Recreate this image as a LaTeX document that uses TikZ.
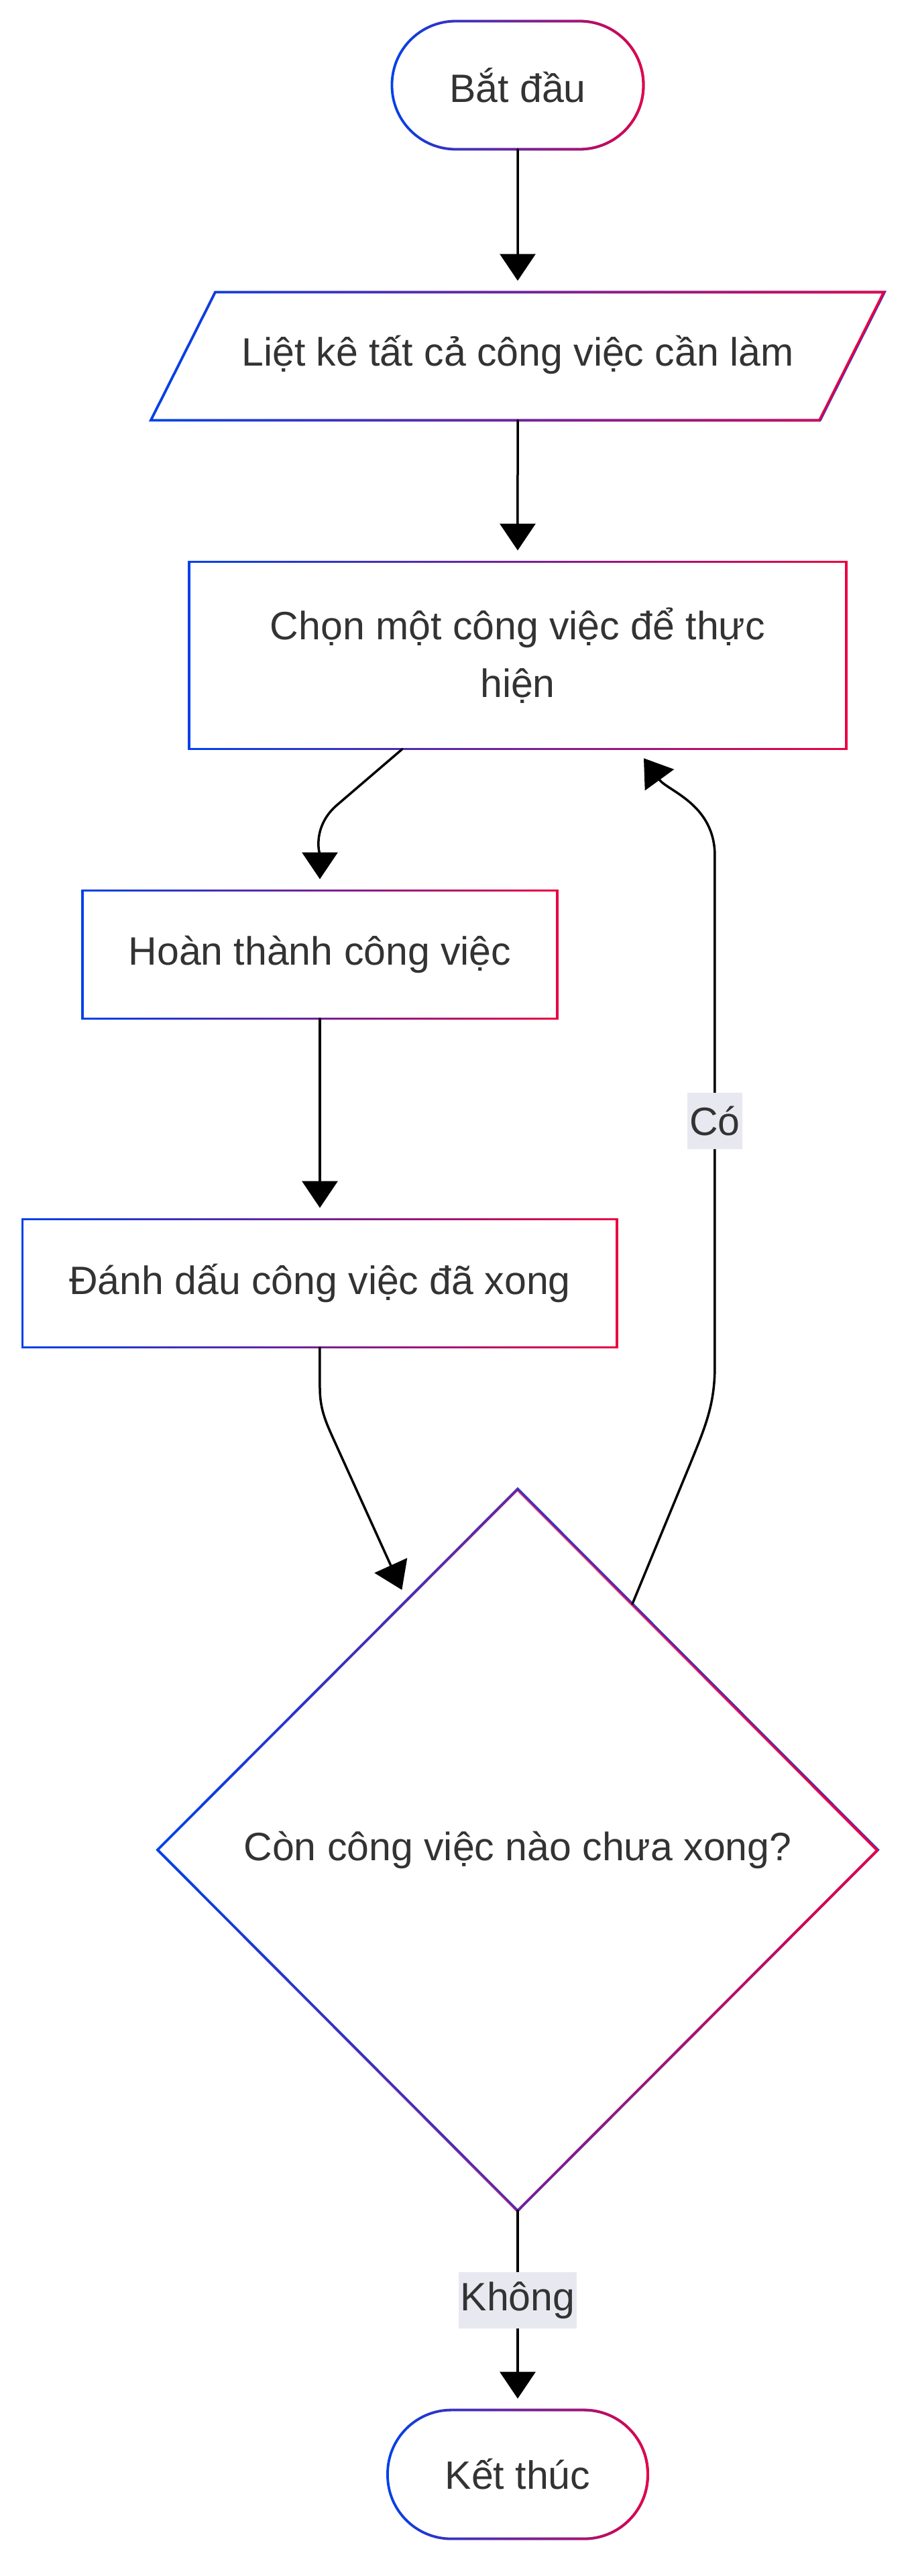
\documentclass[tikz,border=0pt]{standalone}
\usepackage{fontspec}
\setmainfont{Liberation Sans}
\usepackage{tikz}
\usetikzlibrary{arrows.meta,positioning,shapes.geometric,fadings}
\definecolor{gblue}{HTML}{0042EB}
\definecolor{gred}{HTML}{EB0042}
\definecolor{ink}{HTML}{333333}
\definecolor{labelbg}{HTML}{E8E8F0}
\tikzfading[name=redside,left color=transparent!100,right color=transparent!0]
\tikzset{
    every picture/.style={line cap=round},
    gradborder/.style={draw=gblue,fill=white,line width=1.9pt,text=ink,outer sep=0pt,
      postaction={draw=gred,line width=1.9pt,path fading=redside}},
    termnode/.style={gradborder,rounded corners=47.5pt,
      minimum width=187.5pt,minimum height=95.5pt,inner sep=2pt},
    ionode/.style={gradborder,trapezium,trapezium stretches body=true,
      trapezium left angle=63.3,trapezium right angle=116.7,
      text height=21pt,text depth=6.5pt,inner ysep=34pt,inner xsep=2pt,
      minimum width=547pt},
    procnode/.style={gradborder,minimum height=95.5pt,inner sep=2pt,align=center},
    decnode/.style={gradborder,diamond,minimum width=537pt,minimum height=538pt,
      inner sep=0pt},
    flowarrow/.style={-{Triangle[length=20pt,width=26.5pt]},draw=black,
      line width=1.75pt,shorten >=8.5pt},
    edgelabel/.style={fill=labelbg,text=ink,inner xsep=1.5pt,inner ysep=0pt,
      minimum height=42pt}
}
\begin{document}
\begin{tikzpicture}[font=\fontsize{29.5pt}{43pt}\selectfont]
  \useasboundingbox (-386pt,63.5pt) rectangle (294pt,-1856.5pt);
  \node[termnode] (start) {Bắt đầu};
  \node[ionode,below=106.5pt of start] (list) {Liệt kê tất cả công việc cần làm};
  \node[procnode,minimum width=490pt,minimum height=139.5pt,below=105.5pt of list] (pick)
    {Chọn một công việc để thực\\hiện};
  \node[procnode,minimum width=354pt,below=105.5pt of pick,xshift=-147.5pt] (done)
    {Hoàn thành công việc};
  \node[procnode,minimum width=443.5pt,below=149.5pt of done] (mark)
    {Đánh dấu công việc đã xong};
  \node[decnode,below=105.5pt of mark,xshift=147.5pt] (dec) {Còn công việc nào chưa xong?};
  \node[termnode,minimum width=194pt,minimum height=96pt,below=148.5pt of dec] (end) {Kết thúc};
  \draw[flowarrow] (start) -- (list);
  \draw[flowarrow] (list) -- (pick);
  \draw[flowarrow] ([xshift=-86pt]pick.south) -- ++(-49pt,-42pt) to[out=-139,in=90] (done.north);
  \draw[flowarrow] (done) -- (mark);
  \draw[flowarrow] (mark.south) -- ++(0,-30pt) to[out=-90,in=114] ++(12.5pt,-43.5pt) -- (dec.114);
  \draw[flowarrow] (dec.65) -- ++(43pt,104pt) to[out=68,in=-90] ++(18.5pt,73.5pt)
    -- ++(0,380pt) node[edgelabel,pos=0.48] {Có}
    to[out=90,in=-54] ([xshift=89pt]pick.south);
  \draw[flowarrow] (dec) -- (end) node[edgelabel,pos=0.45] {Không};
\end{tikzpicture}
\end{document}
